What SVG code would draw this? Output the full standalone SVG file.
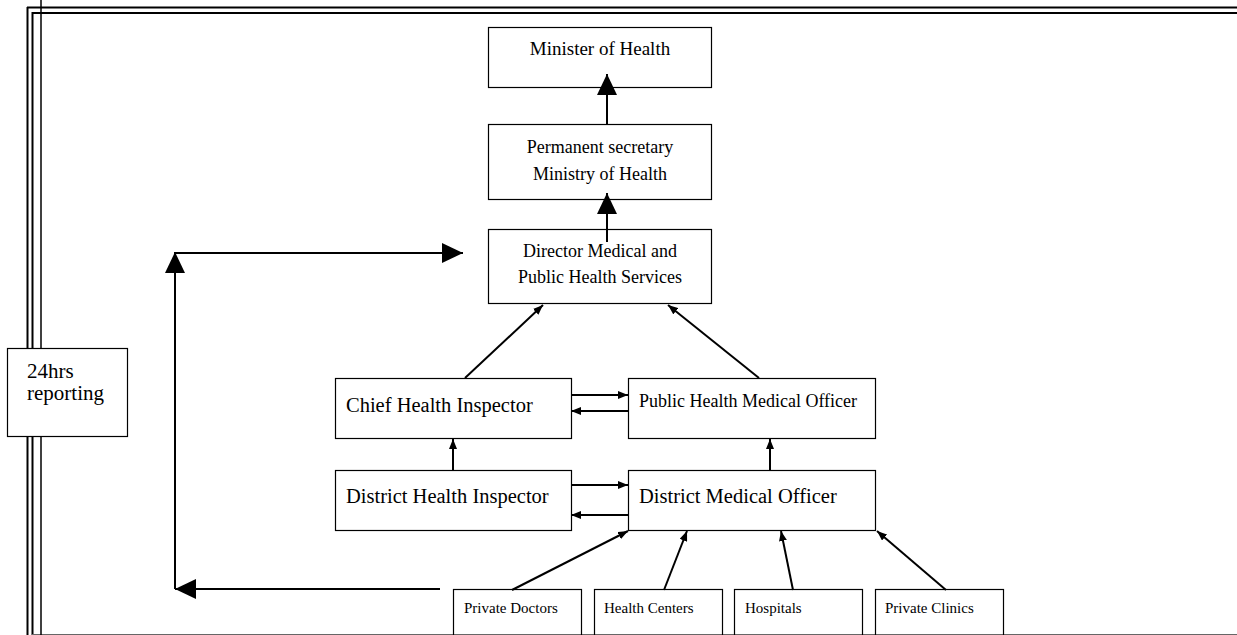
<svg xmlns="http://www.w3.org/2000/svg" width="1237" height="635" viewBox="0 0 1237 635">
<defs>
<style>
.box{fill:#fff;stroke:#000;stroke-width:1.2}
.t{font-family:"Liberation Serif","Times New Roman",serif;fill:#000}
.c{text-anchor:middle}
.ln{stroke:#000;stroke-width:2;fill:none}
.frame{stroke:#000;stroke-width:2;fill:none}
</style>
<marker id="sa" viewBox="0 0 10 8" refX="10" refY="4" markerWidth="10" markerHeight="8" markerUnits="userSpaceOnUse" orient="auto"><path d="M0,0 L10,4 L0,8 z" fill="#000"/></marker>
<marker id="ba" viewBox="0 0 21 20" refX="21" refY="10" markerWidth="21" markerHeight="20" markerUnits="userSpaceOnUse" orient="auto"><path d="M0,0 L21,10 L0,20 z" fill="#000"/></marker>
</defs>
<rect width="1237" height="635" fill="#fff"/>
<g id="frame">
<line class="frame" x1="27.5" y1="7" x2="27.5" y2="635"/>
<line class="frame" x1="32.5" y1="12" x2="32.5" y2="635"/>
<line class="frame" x1="27" y1="7.5" x2="1237" y2="7.5"/>
<line class="frame" x1="32" y1="13" x2="1237" y2="13"/>
<line x1="32" y1="634.5" x2="1237" y2="634.5" stroke="#666" stroke-width="1"/>
<line x1="41" y1="0" x2="41" y2="635" stroke="#000" stroke-width="1.5"/>
</g>
<g id="connectors">
<line class="ln" x1="607" y1="124" x2="607" y2="74" marker-end="url(#ba)"/>
<line class="ln" x1="607" y1="242" x2="607" y2="193" marker-end="url(#ba)"/>
<line class="ln" x1="465" y1="378" x2="543" y2="305" marker-end="url(#sa)"/>
<line class="ln" x1="759" y1="378" x2="668" y2="305" marker-end="url(#sa)"/>
<line class="ln" x1="571" y1="395" x2="628" y2="395" marker-end="url(#sa)"/>
<line class="ln" x1="628" y1="411" x2="571" y2="411" marker-end="url(#sa)"/>
<line class="ln" x1="571" y1="485" x2="628" y2="485" marker-end="url(#sa)"/>
<line class="ln" x1="628" y1="515" x2="571" y2="515" marker-end="url(#sa)"/>
<line class="ln" x1="453" y1="470" x2="453" y2="439" marker-end="url(#sa)"/>
<line class="ln" x1="770" y1="470" x2="770" y2="439" marker-end="url(#sa)"/>
<line class="ln" x1="512" y1="590" x2="628" y2="531" marker-end="url(#sa)"/>
<line class="ln" x1="664" y1="590" x2="687" y2="531" marker-end="url(#sa)"/>
<line class="ln" x1="793" y1="590" x2="781" y2="531" marker-end="url(#sa)"/>
<line class="ln" x1="946" y1="590" x2="877" y2="531" marker-end="url(#sa)"/>
<line class="ln" x1="440" y1="589" x2="175" y2="589" marker-end="url(#ba)"/>
<line class="ln" x1="175" y1="589" x2="175" y2="252"/>
<line class="ln" x1="175" y1="280" x2="175" y2="252" marker-end="url(#ba)"/>
<line class="ln" x1="175" y1="253" x2="463" y2="253" marker-end="url(#ba)"/>
</g>
<g id="minister">
<rect class="box" x="488.5" y="27.5" width="223" height="60" fill-opacity="0"/>
<text class="t c" x="600" y="55" font-size="19">Minister of Health</text>
</g>
<g id="permanent-secretary">
<rect class="box" x="488.5" y="124.5" width="223" height="75" fill-opacity="0"/>
<text class="t c" x="600" y="153" font-size="18">Permanent secretary</text>
<text class="t c" x="600" y="180" font-size="18">Ministry of Health</text>
</g>
<g id="director">
<rect class="box" x="488.5" y="229.5" width="223" height="74" fill-opacity="0"/>
<text class="t c" x="600" y="257" font-size="18">Director Medical and</text>
<text class="t c" x="600" y="283" font-size="18">Public Health Services</text>
</g>
<g id="chief-health-inspector">
<rect class="box" x="335.5" y="378.5" width="236" height="60" fill-opacity="0"/>
<text class="t" x="346" y="412" font-size="20.5">Chief Health Inspector</text>
</g>
<g id="public-health-medical-officer">
<rect class="box" x="628.5" y="378.5" width="247" height="60" fill-opacity="0"/>
<text class="t" x="639" y="407" font-size="18">Public Health Medical Officer</text>
</g>
<g id="district-health-inspector">
<rect class="box" x="335.5" y="470.5" width="236" height="60" fill-opacity="0"/>
<text class="t" x="346" y="503" font-size="20.5">District Health Inspector</text>
</g>
<g id="district-medical-officer">
<rect class="box" x="628.5" y="470.5" width="247" height="60" fill-opacity="0"/>
<text class="t" x="639" y="503" font-size="20.5">District Medical Officer</text>
</g>
<g id="reporting">
<rect class="box" x="7.5" y="348.5" width="120" height="88"/>
<text class="t" x="27" y="378" font-size="21">24hrs</text>
<text class="t" x="27" y="400" font-size="21">reporting</text>
</g>
<g id="private-doctors">
<rect class="box" x="453.5" y="589.5" width="128" height="50" fill-opacity="0"/>
<text class="t" x="464" y="613" font-size="15">Private Doctors</text>
</g>
<g id="health-centers">
<rect class="box" x="594.5" y="589.5" width="128" height="50" fill-opacity="0"/>
<text class="t" x="604" y="613" font-size="15">Health Centers</text>
</g>
<g id="hospitals">
<rect class="box" x="734.5" y="589.5" width="128" height="50" fill-opacity="0"/>
<text class="t" x="745" y="613" font-size="15">Hospitals</text>
</g>
<g id="private-clinics">
<rect class="box" x="875.5" y="589.5" width="128" height="50" fill-opacity="0"/>
<text class="t" x="885" y="613" font-size="15">Private Clinics</text>
</g>
</svg>
